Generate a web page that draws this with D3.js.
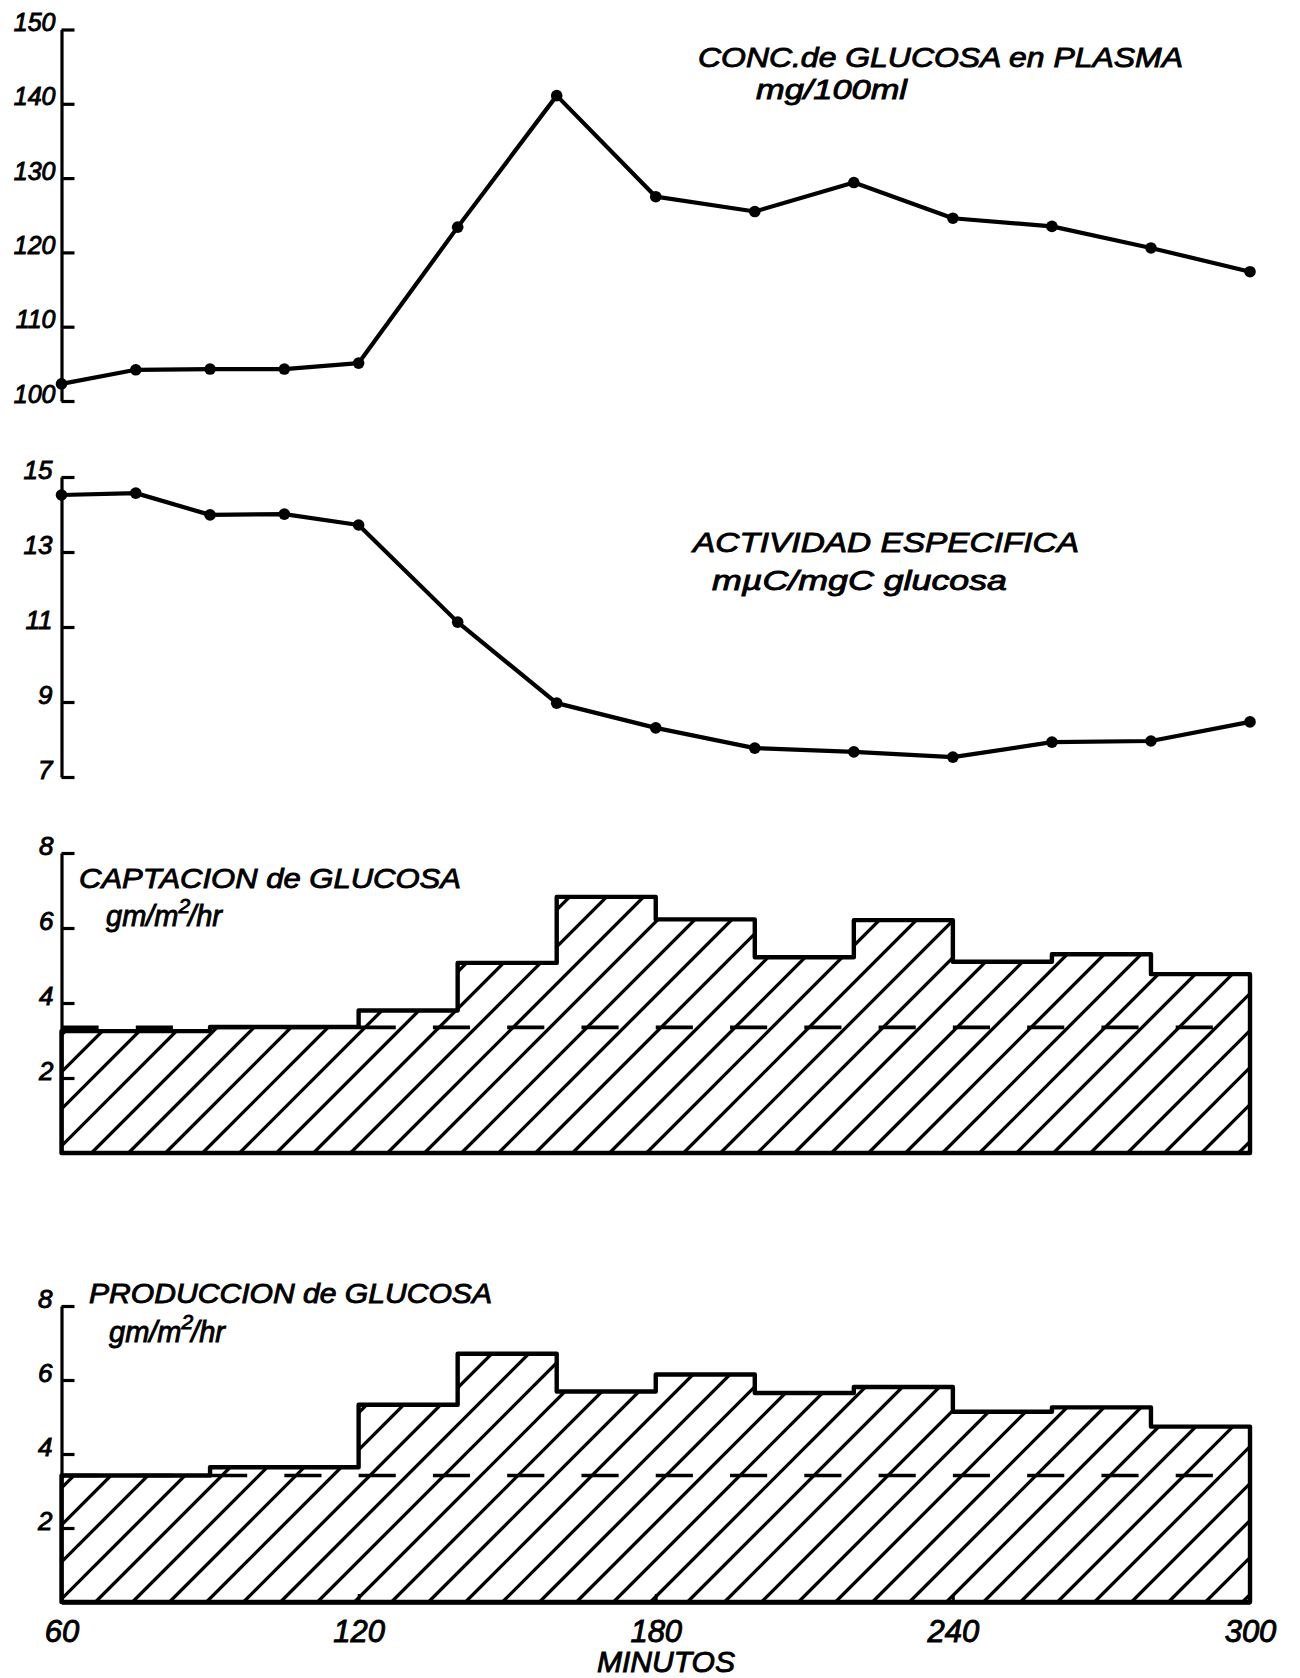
<!DOCTYPE html>
<html>
<head>
<meta charset="utf-8">
<script src="https://cdn.jsdelivr.net/npm/d3@7"></script>
<style>
  body { margin: 0; background: #fff; }
  svg text {
    font-family: "Liberation Sans", Arial, sans-serif; font-style: italic;
    fill: #000; stroke: #000; stroke-width: 0.9px; paint-order: stroke;
  }
</style>
</head>
<body>
<svg id="chart" width="1300" height="1678"></svg>
<script>
// Sampling times (minutes)
const minutes = [60, 75, 90, 105, 120, 140, 160, 180, 200, 220, 240, 260, 280, 300];
// Plasma glucose concentration, mg/100 ml
const plasmaGlucose = [102.3, 104.2, 104.3, 104.3, 105.1, 123.4, 141.1, 127.5, 125.5, 129.4, 124.6, 123.5, 120.6, 117.4];
// Specific activity, mµC/mgC glucose
const specificActivity = [14.52, 14.57, 13.99, 14.01, 13.72, 11.13, 8.97, 8.31, 7.77, 7.67, 7.53, 7.93, 7.96, 8.47];

// Rate periods (minutes)
const periodStart = [60, 90, 120, 140, 160, 180, 200, 220, 240, 260, 280];
const periodEnd   = [90, 120, 140, 160, 180, 200, 220, 240, 260, 280, 300];
// Glucose uptake, gm/m²/hr
const glucoseUptake = [3.25, 3.36, 3.80, 5.07, 6.83, 6.23, 5.22, 6.21, 5.10, 5.30, 4.77];
// Glucose production, gm/m²/hr
const glucoseProduction = [3.42, 3.64, 5.33, 6.71, 5.69, 6.15, 5.65, 5.81, 5.14, 5.26, 4.74];
// Basal reference levels (dashed lines)
const uptakeBasal = 3.35;
const productionBasal = 3.42;

// Axis tick values
const glucoseTicks = [100, 110, 120, 130, 140, 150];
const activityTicks = [7, 9, 11, 13, 15];
const rateTicks = [2, 4, 6, 8];
const minuteTicks = [60, 120, 180, 240, 300];

const svg = d3.select("#chart");
const INK = "#000";

const x = d3.scaleLinear().domain([60, 300]).range([61.5, 1250]);

const yGlucose  = d3.scaleLinear().domain([100, 150]).range([401, 29.5]);
const yActivity = d3.scaleLinear().domain([7, 15]).range([777, 477]);
const yUptake   = d3.scaleLinear().domain([0, 8]).range([1153, 853]);
const yProd     = d3.scaleLinear().domain([0, 8]).range([1602, 1306]);

// Left axis with inward ticks and labels sitting on the tick
function leftAxis(scale, ticks, pad, size) {
  const g = svg.append("g").attr("transform", `translate(${x(60)},0)`);
  g.call(d3.axisLeft(scale).tickValues(ticks).tickSizeInner(-13).tickSizeOuter(0)
    .tickPadding(pad).tickFormat(d3.format("d")));
  g.select(".domain").attr("stroke", INK).attr("stroke-width", 3.2);
  g.selectAll(".tick line").attr("stroke", INK).attr("stroke-width", 3.2);
  g.selectAll(".tick text").attr("dy", "0.04em").attr("font-size", size);
  return g;
}

// Line + dots panel
function linePanel(y, values) {
  const pts = minutes.map((m, i) => [m, values[i]]);
  svg.append("path")
    .attr("d", d3.line().x(d => x(d[0])).y(d => y(d[1]))(pts))
    .attr("fill", "none").attr("stroke", INK).attr("stroke-width", 4.2)
    .attr("stroke-linejoin", "round");
  svg.append("g").selectAll("circle").data(pts).join("circle")
    .attr("cx", d => x(d[0])).attr("cy", d => y(d[1])).attr("r", 5.8).attr("fill", INK);
}

// Hatched step panel
function stepPanel(y, values, basal, id) {
  const pts = periodStart.map((s, i) => [s, values[i]]);
  pts.push([periodEnd[periodEnd.length - 1], values[values.length - 1]]);
  const area = d3.area().curve(d3.curveStepAfter)
    .x(d => x(d[0])).y0(y(0)).y1(d => y(d[1]));
  const dArea = area(pts);

  svg.append("clipPath").attr("id", id).append("path").attr("d", dArea);

  // 45° hatching anchored at the lower-left corner
  const base = y(0), h = y.range()[0] - y.range()[1] + 40;
  const step = 37;
  const hatch = svg.append("g").attr("clip-path", `url(#${id})`);
  for (let x0 = x(60) - h; x0 <= x(300) + step; x0 += step) {
    hatch.append("line")
      .attr("x1", x0).attr("y1", base)
      .attr("x2", x0 + h).attr("y2", base - h)
      .attr("stroke", INK).attr("stroke-width", 3.3);
  }

  // Basal level, dashed every 15 min
  const dashLen = x(67.5) - x(60);
  svg.append("line")
    .attr("x1", x(60)).attr("x2", x(300))
    .attr("y1", y(basal)).attr("y2", y(basal))
    .attr("stroke", INK).attr("stroke-width", 3.6)
    .attr("stroke-dasharray", `${dashLen},${dashLen}`);

  svg.append("path").attr("d", dArea)
    .attr("fill", "none").attr("stroke", INK).attr("stroke-width", 4.4)
    .attr("stroke-linejoin", "round");
}

function label(txt, x0, y0, size, len) {
  const t = svg.append("text").attr("x", x0).attr("y", y0)
    .attr("font-size", size).text(txt);
  if (len) t.attr("textLength", len).attr("lengthAdjust", "spacingAndGlyphs");
  return t;
}

function rateUnits(x0, y0) {
  const t = svg.append("text").attr("x", x0).attr("y", y0).attr("font-size", 29);
  t.append("tspan").text("gm/m");
  t.append("tspan").attr("dy", -13).attr("font-size", 21).text("2");
  t.append("tspan").attr("dy", 13).attr("dx", -2).text("/hr");
}

// Panel 1 — plasma glucose
leftAxis(yGlucose, glucoseTicks, 6, 25);
linePanel(yGlucose, plasmaGlucose);
label("CONC.de GLUCOSA en PLASMA", 698, 67, 28, 485);
label("mg/100ml", 756, 99, 28, 151);

// Panel 2 — specific activity
leftAxis(yActivity, activityTicks, 9, 26);
linePanel(yActivity, specificActivity);
label("ACTIVIDAD  ESPECIFICA", 693, 552, 28, 386);
label("mµC/mgC  glucosa", 712, 590, 28, 295);

// Panel 3 — glucose uptake
stepPanel(yUptake, glucoseUptake, uptakeBasal, "clipUptake");
leftAxis(yUptake, rateTicks, 8, 26);
label("CAPTACION de GLUCOSA", 79, 888, 28, 382);
rateUnits(106, 926);

// Panel 4 — glucose production
stepPanel(yProd, glucoseProduction, productionBasal, "clipProd");
leftAxis(yProd, rateTicks, 9, 26);
label("PRODUCCION de GLUCOSA", 89, 1303, 27, 403);
rateUnits(109, 1342);

// Time axis
const gx = svg.append("g").attr("transform", `translate(0,${yProd(0)})`);
gx.call(d3.axisBottom(x).tickValues(minuteTicks).tickSizeInner(-8).tickSizeOuter(0)
  .tickFormat(d3.format("d")));
gx.select(".domain").attr("stroke", INK).attr("stroke-width", 4.4);
gx.selectAll(".tick line").attr("stroke", INK).attr("stroke-width", 2.8);
gx.selectAll(".tick text").attr("y", 40).attr("dy", null).attr("font-size", 31);
label("MINUTOS", 597, 1672, 29, 138);
</script>
</body>
</html>
